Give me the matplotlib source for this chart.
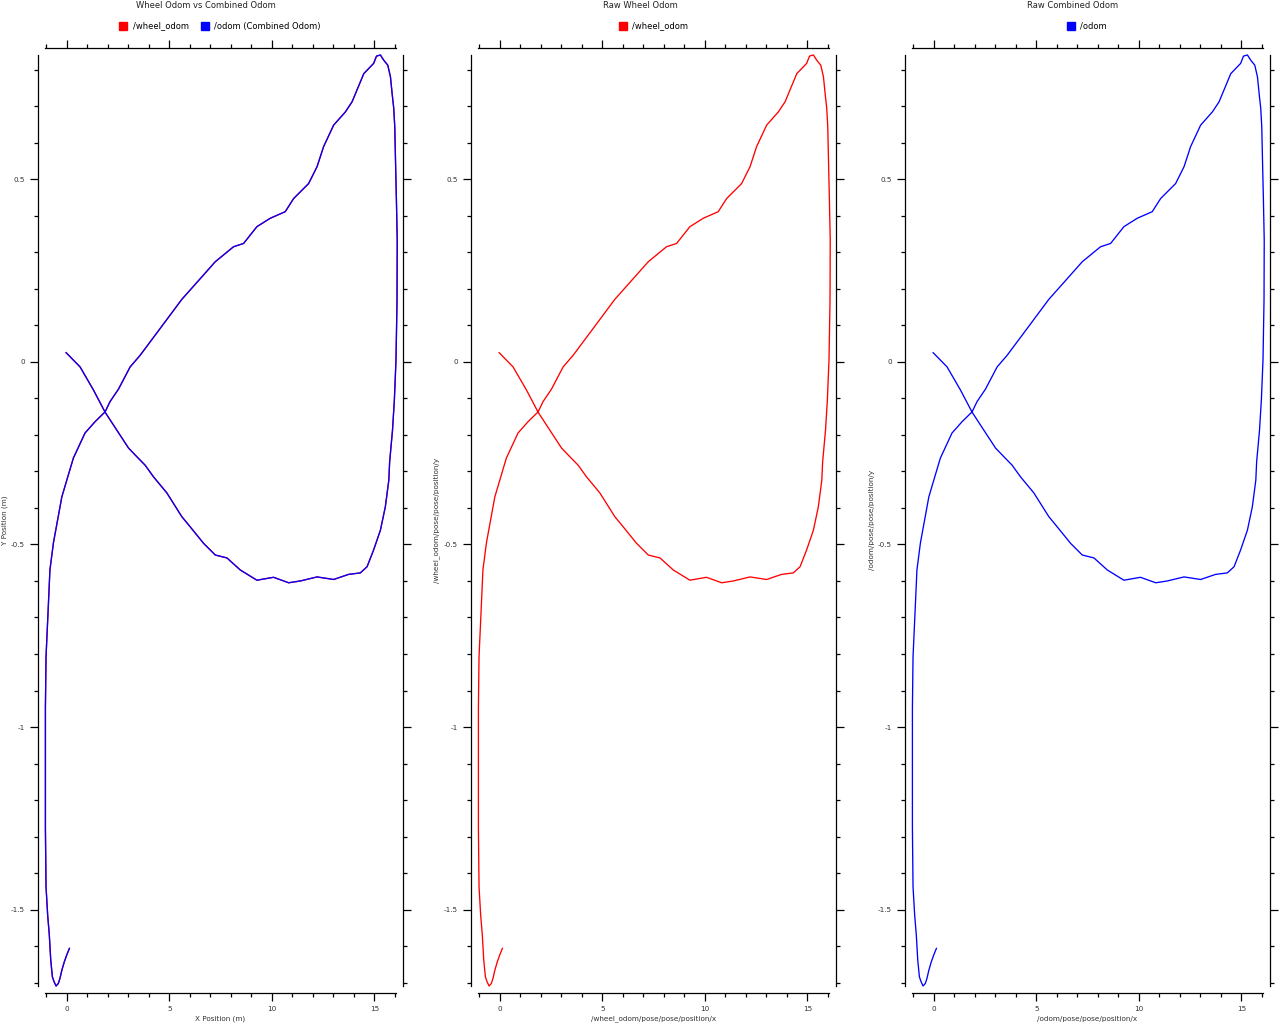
import matplotlib
matplotlib.use('Agg')
import matplotlib.pyplot as plt
from matplotlib.ticker import MultipleLocator, FuncFormatter
from matplotlib.lines import Line2D

# === Trajectory (x, y in metres) ===
wheel_x = [-0.03, 0.65, 1.30, 1.87, 2.44, 3.01, 3.42, 3.82, 4.23, 4.88, 5.61, 6.02,
           6.67, 7.24, 7.81, 8.46, 9.27, 10.08, 10.82, 11.39, 12.20, 13.01, 13.74,
           14.31, 14.64, 14.96, 15.29, 15.53, 15.70, 15.74, 15.88, 15.97, 16.05,
           16.10, 16.11, 16.07, 16.02, 15.99, 15.94, 15.86, 15.78, 15.65, 15.45,
           15.29, 15.10, 14.96, 14.48, 13.91, 13.58, 13.01, 12.52, 12.20, 11.79,
           11.06, 10.65, 9.92, 9.27, 8.62, 8.13, 7.24, 6.26, 5.61, 4.55, 3.58,
           3.09, 2.52, 2.11, 1.87, 1.38, 0.89, 0.32, -0.24, -0.65, -0.82, -0.90,
           -1.01, -1.04, -1.04, -1.01, -0.93, -0.85, -0.78, -0.70, -0.62, -0.52,
           -0.41, -0.33, -0.24, -0.12, 0.00, 0.13]
wheel_y = [0.025, -0.014, -0.077, -0.138, -0.187, -0.236, -0.260, -0.283, -0.315,
           -0.359, -0.424, -0.452, -0.497, -0.529, -0.537, -0.570, -0.598, -0.590,
           -0.605, -0.600, -0.589, -0.596, -0.582, -0.578, -0.561, -0.515, -0.461,
           -0.397, -0.324, -0.274, -0.187, -0.105, 0.005, 0.169, 0.333, 0.443,
           0.566, 0.643, 0.694, 0.735, 0.780, 0.812, 0.826, 0.840, 0.837, 0.817,
           0.789, 0.712, 0.684, 0.648, 0.589, 0.534, 0.488, 0.447, 0.411, 0.393,
           0.370, 0.324, 0.315, 0.274, 0.212, 0.171, 0.091, 0.018, -0.014, -0.075,
           -0.109, -0.137, -0.164, -0.195, -0.264, -0.370, -0.496, -0.570, -0.671,
           -0.808, -0.948, -1.276, -1.437, -1.515, -1.569, -1.638, -1.684, -1.697,
           -1.709, -1.702, -1.688, -1.666, -1.643, -1.624, -1.606]
# combined odom follows the wheel odom almost exactly
odom_x = list(wheel_x)
odom_y = list(wheel_y)

titles = ['Wheel Odom vs Combined Odom', 'Raw Wheel Odom', 'Raw Combined Odom']
x_labels = ['X Position (m)', '/wheel_odom/pose/pose/position/x', '/odom/pose/pose/position/x']
y_labels = ['Y Position (m)', '/wheel_odom/pose/pose/position/y', '/odom/pose/pose/position/y']

RED = '#ff0000'
BLUE = '#0000ff'

W, H = 1280, 1024
fig = plt.figure(figsize=(W / 100, H / 100), dpi=100)

ax_left = [45, 478, 912]      # pixel left edge of each plot area
ax_w = 351
ax_top, ax_bot = 55, 986
title_x = [206, 640, 1073]
ylabel_x = [5, 437, 872]

fmt = FuncFormatter(lambda v, p: ('%g' % round(v, 6)).replace('\u2212', '-'))

for i in range(3):
    ax = fig.add_axes([ax_left[i] / W, 1 - ax_bot / H, ax_w / W, (ax_bot - ax_top) / H])
    if i == 0:
        ax.plot(wheel_x, wheel_y, color=RED, lw=0.95, clip_on=False)
        ax.plot(odom_x, odom_y, color=BLUE, lw=0.95, clip_on=False)
        handles = [Line2D([], [], marker='s', ls='', color=RED, markersize=5.5),
                   Line2D([], [], marker='s', ls='', color=BLUE, markersize=5.5)]
        names = ['/wheel_odom', '/odom (Combined Odom)']
    elif i == 1:
        ax.plot(wheel_x, wheel_y, color=RED, lw=0.95, clip_on=False)
        handles = [Line2D([], [], marker='s', ls='', color=RED, markersize=5.5)]
        names = ['/wheel_odom']
    else:
        ax.plot(odom_x, odom_y, color=BLUE, lw=0.95, clip_on=False)
        handles = [Line2D([], [], marker='s', ls='', color=BLUE, markersize=5.5)]
        names = ['/odom']

    ax.set_xlim(-1.06, 16.05)
    ax.set_ylim(-1.709, 0.840)

    # detached axes on all four sides
    for side in ['left', 'right', 'top', 'bottom']:
        ax.spines[side].set_position(('outward', 5))
        ax.spines[side].set_linewidth(0.9)

    ax.xaxis.set_major_locator(MultipleLocator(5))
    ax.xaxis.set_minor_locator(MultipleLocator(1))
    ax.yaxis.set_major_locator(MultipleLocator(0.5))
    ax.yaxis.set_minor_locator(MultipleLocator(0.1))
    ax.xaxis.set_major_formatter(fmt)
    ax.yaxis.set_major_formatter(fmt)
    ax.tick_params(which='both', direction='out', top=True, right=True,
                   labeltop=False, labelright=False, width=0.9, labelsize=5.2,
                   labelcolor='#333333', pad=3.5)
    ax.tick_params(which='major', length=6)
    ax.tick_params(which='minor', length=3)

    fig.text(title_x[i] / W, 1 - 5 / H, titles[i], ha='center', va='center',
             fontsize=6, color='#222222')
    fig.text((ax_left[i] + ax_w / 2) / W, 1 - 1019 / H, x_labels[i], ha='center',
             va='center', fontsize=5.2, color='#333333')
    fig.text(ylabel_x[i] / W, 1 - 520 / H, y_labels[i], ha='center', va='center',
             rotation=90, fontsize=5.2, color='#333333')
    fig.legend(handles, names, loc='center', ncol=len(names), frameon=False,
               fontsize=6, handlelength=0.8, handletextpad=0.7, columnspacing=1.6,
               bbox_to_anchor=((ax_left[i] + ax_w / 2) / W, 1 - 26 / H))

fig.savefig('out.png', dpi=100)
